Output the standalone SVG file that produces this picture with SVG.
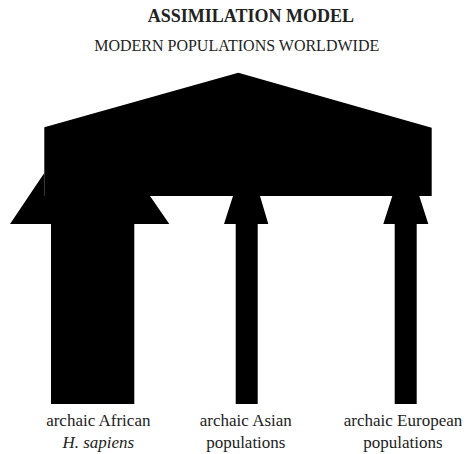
<svg xmlns="http://www.w3.org/2000/svg" width="467" height="454" viewBox="0 0 467 454">
<style>
text{font-family:'Liberation Serif','DejaVu Serif',serif;fill:#222;text-anchor:middle}
.t{font-weight:bold;font-size:18px}
.s{font-size:16px}
.l{font-size:17px}
.shape{fill:#000}
</style>
<rect width="467" height="454" fill="#fff"/>
<g id="connectors">
<polygon id="african" class="shape" points="10,224 44.3,173 44.3,196 150,196 169.3,224 134.3,224 134.3,404 51,404 51,224"/>
<polygon id="asian" class="shape" points="233,196 260,196 268.3,224 257.7,224 257.7,404 235.7,404 235.7,224 224,224"/>
<polygon id="european" class="shape" points="392.3,196 419.3,196 428.3,224 416.7,224 416.7,404 394.7,404 394.7,224 383.3,224"/>
</g>
<g id="modern">
<polygon class="shape" points="44.3,127.3 238.3,72.7 431.7,127.7 431.7,196 44.3,196"/>
</g>
<g id="titles">
<text class="t" x="250.8" y="22">ASSIMILATION MODEL</text>
<text class="s" x="236.7" y="51">MODERN POPULATIONS WORLDWIDE</text>
</g>
<g id="label-african"><text class="l" x="98.3" y="426">archaic African</text><text class="l" x="98.3" y="448" font-style="italic">H. sapiens</text></g>
<g id="label-asian"><text class="l" x="245.8" y="426">archaic Asian</text><text class="l" x="245.8" y="448">populations</text></g>
<g id="label-european"><text class="l" x="403" y="426">archaic European</text><text class="l" x="403" y="448">populations</text></g>
</svg>
